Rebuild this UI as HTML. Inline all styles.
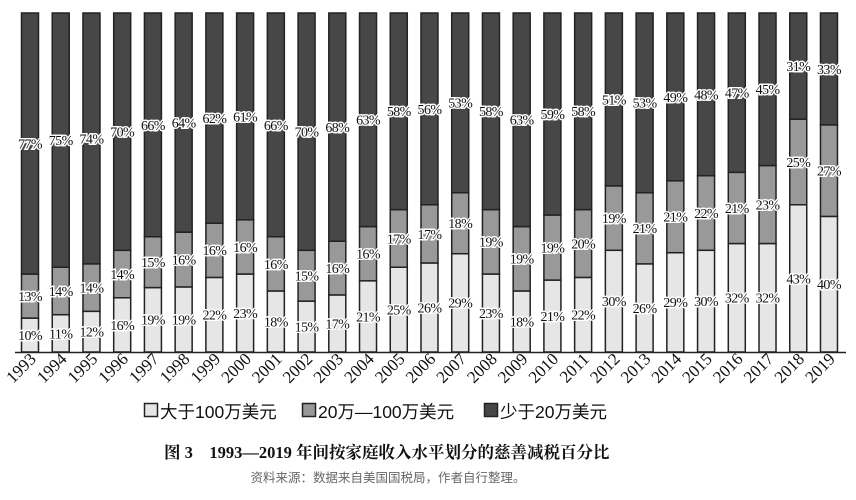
<!DOCTYPE html>
<html><head><meta charset="utf-8"><style>
body{margin:0;background:#fff;}
svg{display:block;}
.v{font-family:"Liberation Serif","Noto Serif CJK SC",serif;font-size:14px;fill:#111;stroke:#fff;stroke-width:3px;paint-order:stroke;text-anchor:middle;letter-spacing:-0.6px}
.y{font-family:"Liberation Serif",serif;font-size:17px;fill:#111;text-anchor:end}
</style></head><body>
<svg width="856" height="500" xmlns="http://www.w3.org/2000/svg" id="s">
<g id="bars"></g>
<line x1="15" y1="352.5" x2="846" y2="352.5" stroke="#222" stroke-width="1.5"/>
<g font-family="Liberation Sans,'Noto Sans CJK SC',sans-serif" font-size="17.5" fill="#111">
<rect x="144.5" y="403.5" width="13" height="13" fill="#e6e6e6" stroke="#222" stroke-width="1.5"/>
<text x="160" y="418">大于100万美元</text>
<rect x="302.5" y="403.5" width="13" height="13" fill="#999" stroke="#222" stroke-width="1.5"/>
<text x="318" y="418">20万—100万美元</text>
<rect x="484.5" y="403.5" width="13" height="13" fill="#474747" stroke="#222" stroke-width="1.5"/>
<text x="500" y="418">少于20万美元</text>
</g>
<text x="164" y="458" font-family="Liberation Serif,'Noto Serif CJK SC',serif" font-size="16.5" font-weight="bold" fill="#111">图 3　1993—2019 年间按家庭收入水平划分的慈善减税百分比</text>
<text x="388" y="482" text-anchor="middle" font-family="Liberation Sans,'Noto Sans CJK SC',sans-serif" font-size="12.5" fill="#666">资料来源：数据来自美国国税局，作者自行整理。</text>
</svg>
<script>
(function(){
var d=[[10,13,77],[11,14,75],[12,14,74],[16,14,70],[19,15,66],[19,16,64],[22,16,62],[23,16,61],[18,16,66],[15,15,70],[17,16,68],[21,16,63],[25,17,58],[26,17,56],[29,18,53],[23,19,58],[18,19,63],[21,19,59],[22,20,58],[30,19,51],[26,21,53],[29,21,49],[30,22,48],[32,21,47],[32,23,45],[43,25,31],[40,27,33]];
var fs=14;
var g=document.getElementById('bars'),s='',T=13,B=352,H=B-T,cols=['#e6e6e6','#999','#474747'];
for(var i=0;i<d.length;i++){var cx=30+i*30.73,t=d[i][0]+d[i][1]+d[i][2],y=B,segs=[];
for(var k=0;k<3;k++){var h=(k==2)?(y-T):d[i][k]/t*H;segs.push([y-h,h]);
s+='<rect x="'+(cx-8.5)+'" y="'+(y-h)+'" width="17" height="'+h+'" fill="'+cols[k]+'" stroke="#222" stroke-width="1.5"/>';y-=h;}
for(k=0;k<3;k++){s+='<text class="v" x="'+cx+'" y="'+(segs[k][0]+segs[k][1]/2+fs*0.35)+'">'+d[i][k]+'%</text>';}
s+='<text class="y" transform="translate('+(cx+7)+',360) rotate(-45)">'+(1993+i)+'</text>';}
g.innerHTML=s;
})();
</script>
</body></html>
